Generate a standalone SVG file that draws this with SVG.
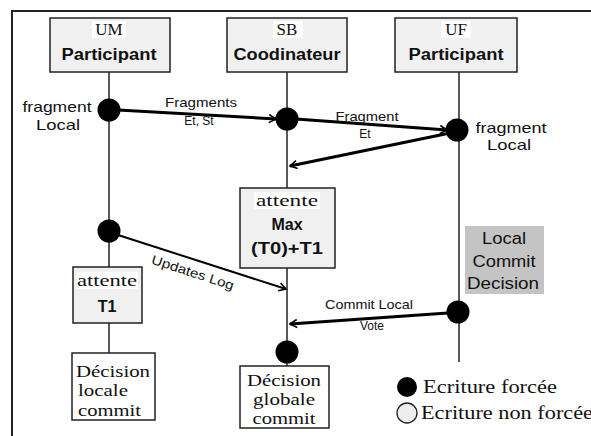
<svg xmlns="http://www.w3.org/2000/svg" width="591" height="436" viewBox="0 0 591 436">
<defs>
<style>
.box{fill:#f0f0f0;stroke:#222;stroke-width:1.5}
.wbox{fill:#fff;stroke:#222;stroke-width:1.5}
.life{stroke:#222;stroke-width:1.5;fill:none}
.serif{font-family:"Liberation Serif","DejaVu Serif",serif;fill:#111}
.sans{font-family:"Liberation Sans",Arial,sans-serif;fill:#111}
.bold{font-family:"Liberation Sans",Arial,sans-serif;font-weight:bold;fill:#111}
.thick{stroke:#000;stroke-width:3;fill:none}
.thin{stroke:#000;stroke-width:2;fill:none}
.dot{fill:#000}
</style>
<marker id="arr" markerWidth="10" markerHeight="10" refX="8" refY="5" orient="auto" markerUnits="userSpaceOnUse">
<path d="M1,1 L8,5 L1,9" fill="none" stroke="#000" stroke-width="1.6"/>
</marker>
</defs>
<rect width="591" height="436" fill="#fff"/>
<path d="M12,436 V11 H591" fill="none" stroke="#222" stroke-width="2"/>

<g id="lifelines">
<line class="life" x1="109" y1="72" x2="109" y2="267"/>
<line class="life" x1="109" y1="323" x2="109" y2="353"/>
<line class="life" x1="287" y1="72" x2="287" y2="188"/>
<line class="life" x1="287" y1="268" x2="287" y2="366"/>
<line class="life" x1="459" y1="72" x2="459" y2="362"/>
</g>

<g id="um">
<rect class="box" x="50" y="18" width="120" height="54"/>
<rect x="92" y="21" width="34" height="17" fill="#fff"/>
<text class="serif" x="109" y="35" font-size="17" text-anchor="middle">UM</text>
<text class="bold" x="109" y="60" font-size="16" text-anchor="middle" textLength="95" lengthAdjust="spacingAndGlyphs">Participant</text>
</g>
<g id="sb">
<rect class="box" x="227" y="18" width="120" height="54"/>
<rect x="273" y="21" width="30" height="17" fill="#fff"/>
<text class="serif" x="287" y="35" font-size="17" text-anchor="middle">SB</text>
<text class="bold" x="287" y="60" font-size="16" text-anchor="middle" textLength="107" lengthAdjust="spacingAndGlyphs">Coodinateur</text>
</g>
<g id="uf">
<rect class="box" x="395" y="18" width="122" height="54"/>
<rect x="441" y="21" width="30" height="17" fill="#fff"/>
<text class="serif" x="456" y="35" font-size="17" text-anchor="middle">UF</text>
<text class="bold" x="456" y="60" font-size="16" text-anchor="middle" textLength="95" lengthAdjust="spacingAndGlyphs">Participant</text>
</g>

<g id="um-fragment-local">
<circle class="dot" cx="109" cy="110" r="11.5"/>
<text class="sans" x="57" y="112" font-size="15" text-anchor="middle" textLength="69" lengthAdjust="spacingAndGlyphs">fragment</text>
<text class="sans" x="58" y="130" font-size="15" text-anchor="middle" textLength="44" lengthAdjust="spacingAndGlyphs">Local</text>
</g>
<g id="sb-dot">
<circle class="dot" cx="287" cy="119" r="11.5"/>
</g>
<g id="uf-fragment-local">
<circle class="dot" cx="457" cy="130" r="11.5"/>
<text class="sans" x="511" y="133" font-size="15" text-anchor="middle" textLength="71" lengthAdjust="spacingAndGlyphs">fragment</text>
<text class="sans" x="509" y="150" font-size="15" text-anchor="middle" textLength="44" lengthAdjust="spacingAndGlyphs">Local</text>
</g>

<g id="sb-attente">
<rect class="box" x="240" y="188" width="95" height="80"/>
<rect x="254" y="192" width="66" height="17" fill="#fff"/>
<text class="serif" x="287" y="206" font-size="16" text-anchor="middle" textLength="62" lengthAdjust="spacingAndGlyphs">attente</text>
<text class="bold" x="287" y="230" font-size="16" text-anchor="middle">Max</text>
<text class="bold" x="287" y="254" font-size="16" text-anchor="middle" textLength="72" lengthAdjust="spacingAndGlyphs">(T0)+T1</text>
</g>

<g id="um-log">
<circle class="dot" cx="109" cy="231" r="11.5"/>
</g>

<g id="um-attente">
<rect class="box" x="73" y="267" width="69" height="56"/>
<rect x="77" y="272" width="61" height="17" fill="#fff"/>
<text class="serif" x="107" y="286" font-size="16" text-anchor="middle" textLength="60" lengthAdjust="spacingAndGlyphs">attente</text>
<text class="bold" x="107" y="312" font-size="16" text-anchor="middle">T1</text>
</g>

<g id="decision-locale">
<rect class="wbox" x="72" y="353" width="83" height="67"/>
<text class="serif" x="113" y="377" font-size="17" text-anchor="middle" textLength="74" lengthAdjust="spacingAndGlyphs">Décision</text>
<text class="serif" x="78" y="396" font-size="17" textLength="50" lengthAdjust="spacingAndGlyphs">locale</text>
<text class="serif" x="78" y="416" font-size="17" textLength="63" lengthAdjust="spacingAndGlyphs">commit</text>
</g>

<g id="local-commit-decision">
<rect x="465" y="226" width="79" height="68" fill="#c4c4c4"/>
<text class="sans" x="504" y="244" font-size="16" text-anchor="middle" textLength="44" lengthAdjust="spacingAndGlyphs">Local</text>
<text class="sans" x="504" y="267" font-size="16" text-anchor="middle" textLength="63" lengthAdjust="spacingAndGlyphs">Commit</text>
<text class="sans" x="503" y="289" font-size="16" text-anchor="middle" textLength="72" lengthAdjust="spacingAndGlyphs">Decision</text>
</g>

<g id="uf-vote">
<circle class="dot" cx="458" cy="312" r="11.5"/>
</g>

<g id="sb-decision">
<circle class="dot" cx="287" cy="352" r="11.5"/>
</g>

<g id="decision-globale">
<rect class="wbox" x="240" y="366" width="89" height="62"/>
<text class="serif" x="284" y="386" font-size="17" text-anchor="middle" textLength="74" lengthAdjust="spacingAndGlyphs">Décision</text>
<text class="serif" x="284" y="405" font-size="17" text-anchor="middle" textLength="62" lengthAdjust="spacingAndGlyphs">globale</text>
<text class="serif" x="284" y="424" font-size="17" text-anchor="middle" textLength="63" lengthAdjust="spacingAndGlyphs">commit</text>
</g>

<g id="connectors">
<line class="thick" x1="118" y1="110" x2="276" y2="119" marker-end="url(#arr)"/>
<text class="sans" x="201" y="107" font-size="13" text-anchor="middle" textLength="72" lengthAdjust="spacingAndGlyphs">Fragments</text>
<text class="sans" x="199" y="125" font-size="12" text-anchor="middle">Et, St</text>
<line class="thick" x1="296" y1="119" x2="447" y2="130" marker-end="url(#arr)"/>
<text class="sans" x="367" y="121" font-size="13" text-anchor="middle" textLength="63" lengthAdjust="spacingAndGlyphs">Fragment</text>
<text class="sans" x="365" y="138" font-size="12" text-anchor="middle">Et</text>
<line class="thick" x1="450" y1="133" x2="290" y2="166" marker-end="url(#arr)"/>
<line class="thin" x1="118" y1="235" x2="286" y2="289" marker-end="url(#arr)"/>
<text class="sans" x="193" y="277" font-size="13" text-anchor="middle" transform="rotate(18 193 272)" textLength="86" lengthAdjust="spacingAndGlyphs">Updates Log</text>
<line class="thick" x1="448" y1="313" x2="290" y2="324" marker-end="url(#arr)"/>
<text class="sans" x="369" y="309" font-size="13" text-anchor="middle" textLength="88" lengthAdjust="spacingAndGlyphs">Commit Local</text>
<text class="sans" x="372" y="330" font-size="12" text-anchor="middle">Vote</text>
</g>

<g id="legend">
<circle cx="407" cy="387" r="10" fill="#000"/>
<text class="serif" x="423" y="393" font-size="19" textLength="134" lengthAdjust="spacingAndGlyphs">Ecriture forcée</text>
<circle cx="407" cy="413" r="10" fill="#eee" stroke="#222" stroke-width="1.3"/>
<text class="serif" x="421" y="419" font-size="19" textLength="172" lengthAdjust="spacingAndGlyphs">Ecriture non forcée</text>
</g>
</svg>
